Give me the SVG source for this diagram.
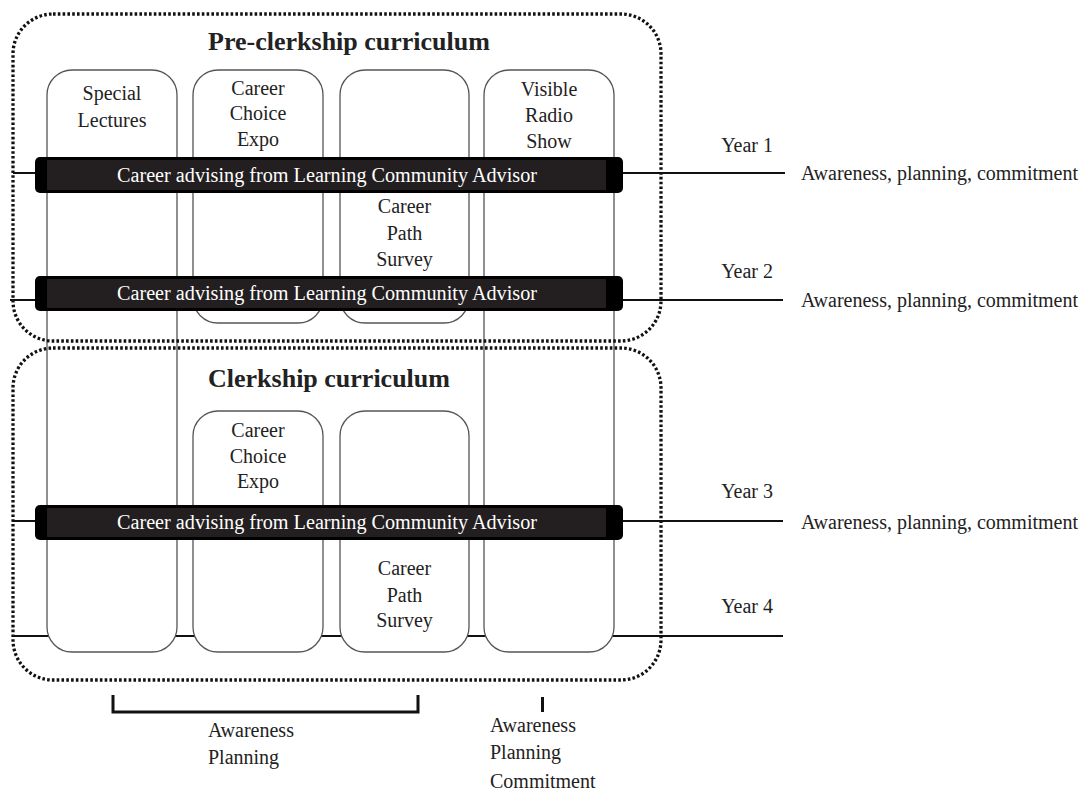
<svg xmlns="http://www.w3.org/2000/svg" width="1084" height="793" viewBox="0 0 1084 793">
<style>
.t{font-family:"Liberation Serif","Times New Roman",serif;font-size:20px;fill:#222}
.c{text-anchor:middle}
.h{font-family:"Liberation Serif","Times New Roman",serif;font-size:26px;font-weight:bold;fill:#222;text-anchor:middle}
.w{font-family:"Liberation Serif","Times New Roman",serif;font-size:20px;fill:#fff;text-anchor:middle}
.col{fill:#fff;stroke:#555;stroke-width:1.3}
.yl{stroke:#111;stroke-width:2;fill:none}
.dot{fill:none;stroke:#111;stroke-width:3.3;stroke-dasharray:2.6 2.2}
.band{fill:#000}
.bandin{fill:#231f20}
</style>
<rect width="1084" height="793" fill="#fff"/>
<g id="connectors">
<line class="yl" x1="13" y1="173" x2="785" y2="173"/>
<line class="yl" x1="10" y1="300" x2="783" y2="300"/>
<line class="yl" x1="12" y1="521" x2="783" y2="521"/>
<line class="yl" x1="12" y1="636" x2="783" y2="636"/>
<polyline points="113,695 113,712 418,712 418,695" fill="none" stroke="#111" stroke-width="3"/>
<line x1="542.5" y1="697" x2="542.5" y2="712" stroke="#111" stroke-width="3"/>
</g>
<g id="col1"><rect class="col" x="47" y="70" width="130" height="582" rx="25"/>
<text class="t c" x="112" y="100">Special</text><text class="t c" x="112" y="127">Lectures</text></g>
<g id="col4"><rect class="col" x="484" y="70" width="130" height="582" rx="25"/>
<text class="t c" x="549" y="96">Visible</text><text class="t c" x="549" y="122">Radio</text><text class="t c" x="549" y="148">Show</text></g>
<g id="col2-top"><rect class="col" x="193" y="70" width="130" height="253" rx="25"/>
<text class="t c" x="258" y="95">Career</text><text class="t c" x="258" y="120">Choice</text><text class="t c" x="258" y="146">Expo</text></g>
<g id="col3-top"><rect class="col" x="340" y="70" width="129" height="253" rx="25"/>
<text class="t c" x="404.5" y="213">Career</text><text class="t c" x="404.5" y="240">Path</text><text class="t c" x="404.5" y="266">Survey</text></g>
<g id="col2-bottom"><rect class="col" x="193" y="411" width="130" height="241" rx="25"/>
<text class="t c" x="258" y="437">Career</text><text class="t c" x="258" y="463">Choice</text><text class="t c" x="258" y="488">Expo</text></g>
<g id="col3-bottom"><rect class="col" x="340" y="411" width="129" height="241" rx="25"/>
<text class="t c" x="404.5" y="575">Career</text><text class="t c" x="404.5" y="602">Path</text><text class="t c" x="404.5" y="627">Survey</text></g>
<g id="band1"><rect class="band" x="35" y="157" width="588" height="36" rx="5"/><rect class="bandin" x="47" y="160" width="559" height="30"/>
<text class="w" x="327" y="182" textLength="420" lengthAdjust="spacingAndGlyphs">Career advising from Learning Community Advisor</text></g>
<g id="band2"><rect class="band" x="35" y="276" width="588" height="35" rx="5"/><rect class="bandin" x="47" y="279" width="559" height="29"/>
<text class="w" x="327" y="300" textLength="420" lengthAdjust="spacingAndGlyphs">Career advising from Learning Community Advisor</text></g>
<g id="band3"><rect class="band" x="35" y="505" width="588" height="35" rx="5"/><rect class="bandin" x="47" y="508" width="559" height="29"/>
<text class="w" x="327" y="529" textLength="420" lengthAdjust="spacingAndGlyphs">Career advising from Learning Community Advisor</text></g>
<g id="preclerkship"><rect class="dot" x="13" y="14" width="648" height="327" rx="40"/>
<text class="h" x="349" y="50">Pre-clerkship curriculum</text></g>
<g id="clerkship"><rect class="dot" x="13" y="348" width="648" height="332" rx="40"/>
<text class="h" x="329" y="387">Clerkship curriculum</text></g>
<g id="years">
<text class="t" x="773" y="152" text-anchor="end">Year 1</text>
<text class="t" x="773" y="278" text-anchor="end">Year 2</text>
<text class="t" x="773" y="498" text-anchor="end">Year 3</text>
<text class="t" x="773" y="613" text-anchor="end">Year 4</text>
<text class="t" x="801" y="180">Awareness, planning, commitment</text>
<text class="t" x="801" y="307">Awareness, planning, commitment</text>
<text class="t" x="801" y="529">Awareness, planning, commitment</text>
</g>
<g id="bottom-labels">
<text class="t" x="208" y="737">Awareness</text><text class="t" x="208" y="764">Planning</text>
<text class="t" x="490" y="732">Awareness</text><text class="t" x="490" y="759">Planning</text><text class="t" x="490" y="788">Commitment</text>
</g>
</svg>
